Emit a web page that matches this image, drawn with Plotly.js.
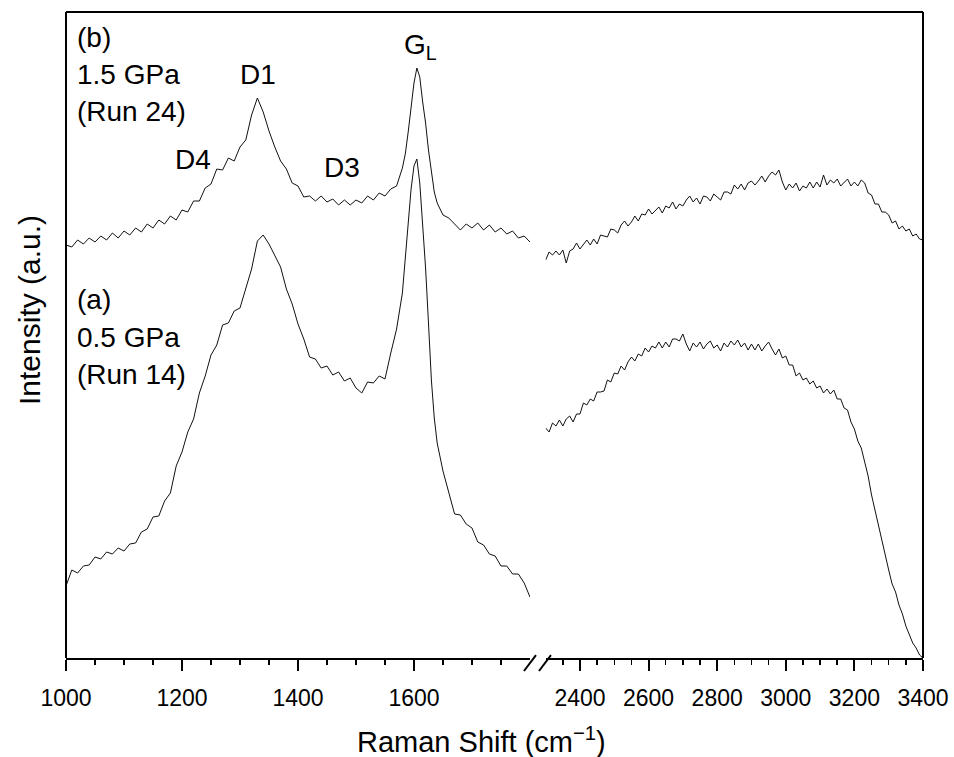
<!DOCTYPE html>
<html>
<head>
<meta charset="utf-8">
<script src="https://cdn.plot.ly/plotly-3.0.1.min.js"></script>
<style>html,body{margin:0;padding:0;background:#fff;}#chart{width:954px;height:757px;}</style>
</head>
<body>
<div id="chart"></div>
<script>
// Raman shift grids (cm^-1)
const xLeft = [1000,1010,1020,1030,1040,1050,1060,1070,1080,1090,
  1100,1110,1120,1130,1140,1150,1160,1170,1180,1190,
  1200,1210,1220,1230,1240,1250,1260,1270,1280,1290,
  1300,1310,1320,1330,1340,1350,1360,1370,1380,1390,
  1400,1410,1420,1430,1440,1450,1460,1470,1480,1490,
  1500,1510,1520,1530,1540,1550,1560,1570,1580,1585,
  1590,1595,1600,1605,1610,1615,1620,1625,1630,1635,
  1640,1650,1660,1670,1680,1690,1700,1710,1720,1730,
  1740,1750,1760,1770,1780,1790,1800];

const xRight = [2300,2310,2320,2330,2340,2350,2360,2370,2380,2390,
  2400,2410,2420,2430,2440,2450,2460,2470,2480,2490,
  2500,2510,2520,2530,2540,2550,2560,2570,2580,2590,
  2600,2610,2620,2630,2640,2650,2660,2670,2680,2690,
  2700,2710,2720,2730,2740,2750,2760,2770,2780,2790,
  2800,2810,2820,2830,2840,2850,2860,2870,2880,2890,
  2900,2910,2920,2930,2940,2950,2960,2970,2980,2990,
  3000,3010,3020,3030,3040,3050,3060,3070,3080,3090,
  3100,3110,3120,3130,3140,3150,3160,3170,3180,3190,
  3200,3210,3220,3230,3240,3250,3260,3270,3280,3290,
  3300,3310,3320,3330,3340,3350,3360,3370,3380,3390,
  3400];

// (b) 1.5 GPa (Run 24), stacked intensity (a.u.)
const runB_left = [413,411,418,414,420,416,422,418,425,420,
  427,423,430,426,434,430,438,434,442,438,
  448,446,457,457,470,474,489,488,500,497,
  511,518,543,560,546,527,511,497,489,475,
  472,461,462,457,462,456,459,453,458,453,
  458,455,462,458,465,462,469,472,490,504,
  526,550,575,590,581,556,535,508,485,466,
  455,443,440,434,428,434,430,435,428,433,
  426,430,424,427,420,422,416];

const runB_right = [398,406,403,407,403,408,395,407,409,415,
  409,414,418,413,419,414,423,422,421,429,
  428,425,433,437,432,436,442,437,444,443,
  449,444,448,451,445,452,450,456,449,454,
  452,458,462,456,460,454,462,461,457,464,
  461,458,466,466,464,473,469,474,468,475,
  477,473,477,482,476,482,486,483,488,476,
  468,474,470,475,467,472,470,476,470,476,
  471,483,473,478,475,479,472,476,479,472,
  476,472,478,475,465,463,454,454,446,446,
  443,435,437,429,432,427,429,422,424,419,
  418];

// (a) 0.5 GPa (Run 14)
const runA_left = [72,88,85,92,93,101,99,106,104,110,
  107,114,115,126,129,141,142,157,165,192,
  206,226,239,265,282,303,313,333,335,347,
  350,370,389,417,423,414,402,391,369,354,
  334,319,301,299,290,292,283,286,277,280,
  270,265,276,275,282,279,305,329,365,398,
  435,469,492,499,475,434,390,335,278,240,
  215,187,164,144,143,134,130,116,113,104,
  102,92,92,84,84,75,61];

const runA_right = [230,226,235,232,238,232,239,242,236,244,
  244,255,253,259,257,266,266,267,278,276,
  285,284,292,288,296,301,297,304,302,310,
  306,312,310,316,310,316,311,319,319,317,
  324,314,307,315,311,316,309,314,317,310,
  313,307,315,311,317,313,318,311,315,308,
  314,308,314,307,312,316,309,303,309,300,
  302,293,293,282,285,278,280,274,277,270,
  272,265,269,264,268,259,259,250,248,236,
  229,217,210,196,182,163,148,130,117,101,
  88,74,66,53,44,32,24,15,10,3,
  0];

// tick labels
const ticksLeft = [1000,1200,1400,1600];
const minorLeft = [1050,1100,1150,1250,1300,1350,1450,1500,1550,1650,1700,1750];
const ticksRight = [2400,2600,2800,3000,3200,3400];
const minorRight = [2350,2450,2500,2550,2650,2700,2750,2850,2900,2950,3050,3100,3150,3250,3300,3350];

const FONT = 'Liberation Sans, Arial, sans-serif';
const lineStyle = {color:'#111', width:1};

const traces = [
  {x:xLeft, y:runB_left, xaxis:'x', yaxis:'y', mode:'lines', line:lineStyle, hoverinfo:'skip'},
  {x:xLeft, y:runA_left, xaxis:'x', yaxis:'y', mode:'lines', line:lineStyle, hoverinfo:'skip'},
  {x:xRight, y:runB_right, xaxis:'x2', yaxis:'y', mode:'lines', line:lineStyle, hoverinfo:'skip'},
  {x:xRight, y:runA_right, xaxis:'x2', yaxis:'y', mode:'lines', line:lineStyle, hoverinfo:'skip'}
];

function axisCommon(tv, mv){
  return {
    tickmode:'array', tickvals:tv, ticks:'outside', ticklen:11, tickwidth:2, tickcolor:'#000',
    showline:true, linewidth:2, linecolor:'#000', showgrid:false, zeroline:false,
    tickfont:{family:FONT, size:23, color:'#000'}, ticklabelstandoff:7,
    minor:{tickmode:'array', tickvals:mv, ticks:'outside', ticklen:5, tickwidth:1.5, tickcolor:'#000', showgrid:false},
    anchor:'y', fixedrange:true
  };
}

const xa = Object.assign(axisCommon(ticksLeft, minorLeft), {domain:[0,0.5414], range:[1000,1800]});
const xb = Object.assign(axisCommon(ticksRight, minorRight), {domain:[0.5597,1], range:[2300,3400]});

function ann(text, x, y, xanchor, size){
  return {text:text, x:x, y:y, xref:'paper', yref:'paper', xanchor:xanchor, yanchor:'middle',
    showarrow:false, align:'left', font:{family:FONT, size:size||28, color:'#000'}};
}

const layout = {
  width:954, height:757,
  margin:{l:66, r:31, t:12, b:99},
  paper_bgcolor:'#fff', plot_bgcolor:'#fff',
  showlegend:false,
  xaxis:xa, xaxis2:xb,
  yaxis:{range:[0,646], showticklabels:false, ticks:'', showline:false, showgrid:false, zeroline:false, fixedrange:true},
  shapes:[
    {type:'line', xref:'paper', yref:'paper', x0:0, x1:1, y0:1, y1:1, line:{color:'#000', width:2}},
    {type:'line', xref:'paper', yref:'paper', x0:0, x1:0, y0:0, y1:1, line:{color:'#000', width:2}},
    {type:'line', xref:'paper', yref:'paper', x0:1, x1:1, y0:0, y1:1, line:{color:'#000', width:2}},
    {type:'line', xref:'paper', yref:'paper', x0:0.5344, x1:0.5484, y0:-0.0201, y1:0.0046, line:{color:'#000', width:2}},
    {type:'line', xref:'paper', yref:'paper', x0:0.5519, x1:0.5659, y0:-0.0201, y1:0.0046, line:{color:'#000', width:2}}
  ],
  annotations:[
    ann('(b)', 0.0105, 0.9598, 'left'),
    ann('1.5 GPa', 0.0105, 0.9025, 'left'),
    ann('(Run 24)', 0.0105, 0.8467, 'left'),
    ann('(a)', 0.0105, 0.5542, 'left'),
    ann('0.5 GPa', 0.0105, 0.4969, 'left'),
    ann('(Run 14)', 0.0105, 0.4396, 'left'),
    ann('D1', 0.2240, 0.9025, 'center'),
    ann('D4', 0.1482, 0.7710, 'center'),
    ann('D3', 0.3221, 0.7600, 'center'),
    ann('G<sub>L</sub>', 0.4142, 0.9470, 'center'),
    {text:'Raman Shift (cm<sup>−1</sup>)', x:0.4854, y:-0.1269, xref:'paper', yref:'paper', xanchor:'center', yanchor:'middle',
      showarrow:false, font:{family:FONT, size:29, color:'#000'}},
    {text:'Intensity (a.u.)', x:-0.042, y:0.5387, xref:'paper', yref:'paper', xanchor:'center', yanchor:'middle',
      textangle:-90, showarrow:false, font:{family:FONT, size:30, color:'#000'}}
  ]
};

Plotly.newPlot('chart', traces, layout, {staticPlot:true, displayModeBar:false});
</script>
</body>
</html>
